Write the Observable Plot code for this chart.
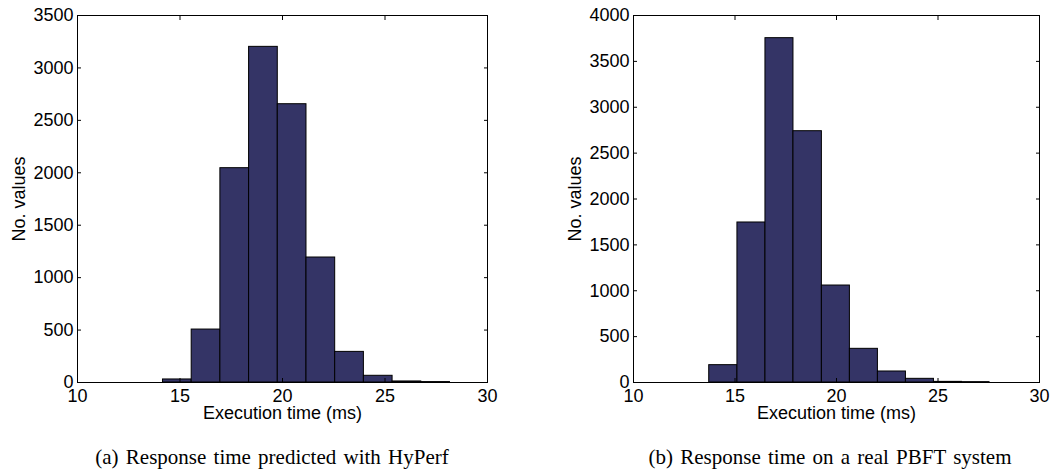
<!DOCTYPE html>
<html>
<head>
<meta charset="utf-8">
<script src="https://cdn.jsdelivr.net/npm/d3@7"></script>
<script src="https://cdn.jsdelivr.net/npm/@observablehq/plot@0.6"></script>
<style>
  html, body { margin: 0; padding: 0; background: #fff; }
  #wrap { position: relative; width: 1059px; height: 473px; background: #fff; }
  #wrap svg { position: absolute; top: 0; }
  .cap { position: absolute; font-family: "Liberation Serif", "Times New Roman", serif; font-size: 21px; word-spacing: 2px; color: #000; white-space: nowrap; transform: translateX(-50%); }
</style>
</head>
<body>
<div id="wrap"></div>
<script>
// ---- Data ----
const binEdgesA = [14.17, 15.57, 16.97, 18.37, 19.77, 21.17, 22.57, 23.97, 25.37, 26.77, 28.17];
const countsA   = [29, 505, 2044, 3201, 2654, 1192, 292, 64, 10, 4];
const binEdgesB = [13.73, 15.12, 16.50, 17.88, 19.28, 20.66, 22.04, 23.42, 24.80, 26.18, 27.54];
const countsB   = [189, 1744, 3753, 2739, 1057, 367, 120, 40, 7, 4];
const xTicks  = [10, 15, 20, 25, 30];
const yTicksA = [0, 500, 1000, 1500, 2000, 2500, 3000, 3500];
const yTicksB = [0, 500, 1000, 1500, 2000, 2500, 3000, 3500, 4000];
const xLabel = "Execution time (ms)";
const yLabel = "No. values";
const captionA = "(a) Response time predicted with HyPerf";
const captionB = "(b) Response time on a real PBFT system";

const barFill = "#343466";

function makeBins(edges, counts) {
  return counts.map((c, i) => ({x1: edges[i], x2: edges[i + 1], count: c}));
}

function histPlot({edges, counts, yTicks, width, marginLeft, marginRight}) {
  const data = makeBins(edges, counts);
  const blank = () => "";
  return Plot.plot({
    width, height: 425,
    marginLeft, marginRight, marginTop: 15, marginBottom: 43,
    x: {domain: [10, 30]},
    y: {domain: [0, yTicks[yTicks.length - 1]]},
    style: {fontFamily: "'Liberation Sans', Arial, Helvetica, sans-serif", fontSize: "18px", color: "#000", background: "#fff", overflow: "visible"},
    marks: [
      Plot.rectY(data, {x1: "x1", x2: "x2", y1: 0, y2: "count", fill: barFill, stroke: "#000", strokeWidth: 1, insetLeft: 0, insetRight: 0}),
      Plot.frame({stroke: "#000", strokeWidth: 1}),
      // inward tick marks on all four sides
      Plot.axisX({anchor: "bottom", ticks: xTicks, tickSize: -4, tickFormat: blank, label: null}),
      Plot.axisX({anchor: "top", ticks: xTicks, tickSize: -4, tickFormat: blank, label: null}),
      Plot.axisY({anchor: "left", ticks: yTicks, tickSize: -4, tickFormat: blank, label: null}),
      Plot.axisY({anchor: "right", ticks: yTicks, tickSize: -4, tickFormat: blank, label: null}),
      // tick labels + axis titles
      Plot.axisX({anchor: "bottom", ticks: xTicks, tickSize: 0, tickPadding: 7, tickFormat: d3.format("d"),
                  label: xLabel, labelAnchor: "center", labelArrow: "none", labelOffset: 36}),
      Plot.axisY({anchor: "left", ticks: yTicks, tickSize: 0, tickPadding: 4, tickFormat: d3.format("d"),
                  label: yLabel, labelAnchor: "center", labelArrow: "none", labelOffset: 65})
    ]
  });
}

const wrap = document.getElementById("wrap");
const svgA = histPlot({edges: binEdgesA, counts: countsA, yTicks: yTicksA, width: 530, marginLeft: 77, marginRight: 43});
svgA.style.left = "0px";
wrap.appendChild(svgA);
const svgB = histPlot({edges: binEdgesB, counts: countsB, yTicks: yTicksB, width: 529, marginLeft: 103, marginRight: 20});
svgB.style.left = "530px";
wrap.appendChild(svgB);

function addCaption(text, cx) {
  const d = document.createElement("div");
  d.className = "cap";
  d.textContent = text;
  d.style.left = cx + "px";
  d.style.top = "445px";
  wrap.appendChild(d);
}
addCaption(captionA, 272);
addCaption(captionB, 830);
</script>
</body>
</html>
